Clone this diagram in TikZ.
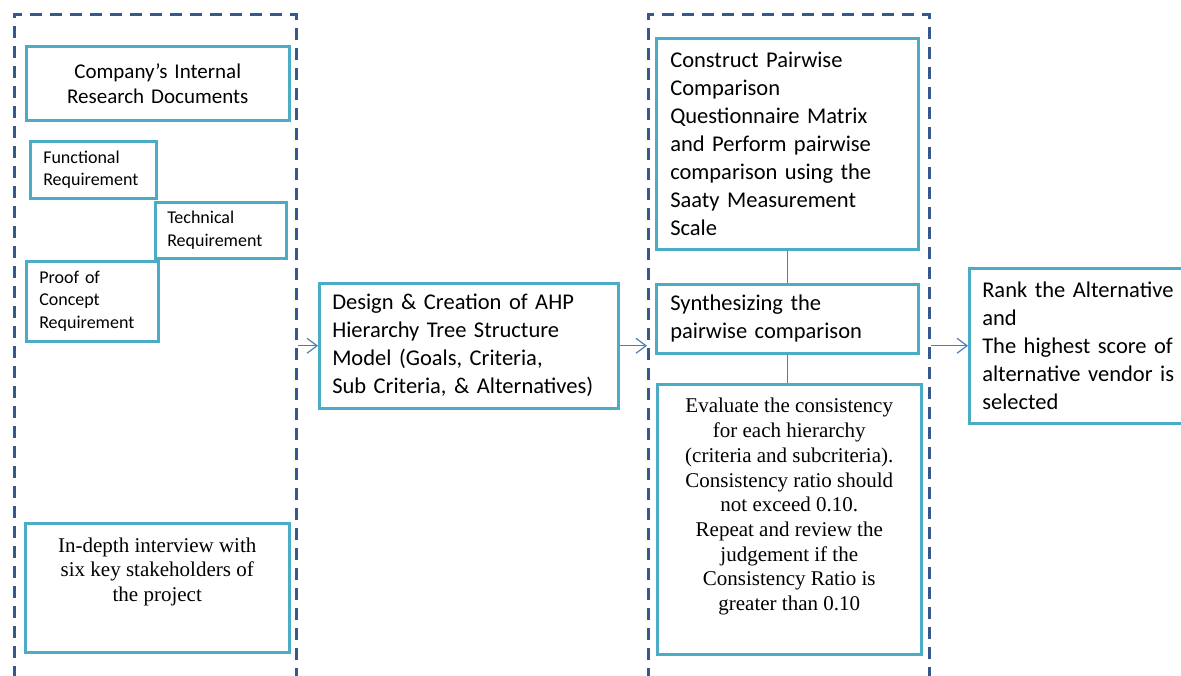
\documentclass[tikz,border=0pt]{standalone}
\usepackage{fontspec}
\setmainfont{Carlito}
\newfontfamily\tnr{Liberation Serif}
\usetikzlibrary{arrows.meta,calc}
\definecolor{cyanc}{HTML}{4BACC6}
\definecolor{dashc}{HTML}{35598F}
\definecolor{arrc}{HTML}{4A7EBB}
\tikzset{
  box/.style={draw=cyanc, line width=2.5pt, fill=white, rectangle, anchor=north west, inner xsep=13pt, inner ysep=0pt},
  grp/.style={draw=dashc, line width=2.5pt, dash pattern=on 12pt off 8pt, rectangle, anchor=north west, inner sep=0pt},
  big/.style={font=\fontsize{22.5}{28}\selectfont, align=left},
  mid/.style={font=\fontsize{21}{25}\selectfont, align=center},
  small/.style={font=\fontsize{18}{22.5}\selectfont, align=left},
  serif/.style={font=\tnr\fontsize{21}{24.7}\selectfont, align=center},
  conn/.style={draw=arrc, line width=1.2pt},
  arr/.style={conn, -{Straight Barb[length=10pt,width=15pt,line width=1.2pt]}}
}
\begin{document}
\begin{tikzpicture}[x=1pt,y=-1pt]
\useasboundingbox (0,0) rectangle (1181,675);
\clip (0,0) rectangle (1181,675);
\fill[white] (0,0) rectangle (1181,675);

% dashed groups
\node[grp, minimum width=282pt, minimum height=664pt] (grpL) at (13,13) {};
\node[grp, minimum width=281pt, minimum height=664pt] (grpR) at (647,13) {};

% left group
\node[box, mid, minimum width=263pt, minimum height=74pt, text width=237pt] (company) at (25,45) {Company’s Internal\\Research Documents};
\node[box, small, minimum width=126pt, minimum height=57pt, text width=100pt, inner xsep=12pt] (func) at (29,140) {Functional\\Requirement};
\node[box, small, minimum width=131pt, minimum height=56pt, text width=107pt, inner xsep=12pt] (tech) at (154,201) {Technical\\Requirement};
\node[box, small, minimum width=132pt, minimum height=80pt, text width=106pt] (proof) at (25,260) {Proof of\\Concept\\Requirement};
\node[box, minimum width=264pt, minimum height=129pt] (interview) at (24,522) {};
\node[serif, anchor=center] (interviewtxt) at ($(interview.center)+(0,-16)$) {In-depth interview with\\six key stakeholders of\\the project};

% middle
\node[box, big, minimum width=299pt, minimum height=125pt, text width=273pt] (design) at (318,282) {Design \& Creation of AHP\\Hierarchy Tree Structure\\Model (Goals, Criteria,\\Sub Criteria, \& Alternatives)};

% right group
\node[box, big, minimum width=262pt, minimum height=211pt, text width=234pt, inner xsep=14pt] (construct) at (655,37) {Construct Pairwise\\Comparison\\Questionnaire Matrix\\and Perform pairwise\\comparison using the\\Saaty Measurement\\Scale};
\node[box, big, minimum width=262pt, minimum height=69pt, text width=234pt, inner xsep=14pt] (synth) at (655,283) {Synthesizing the\\pairwise comparison};
\node[box, minimum width=264pt, minimum height=270pt] (eval) at (656,383) {};
\node[serif, anchor=center] (evaltxt) at ($(eval.center)+(0,-12.5)$) {Evaluate the consistency\\for each hierarchy\\(criteria and subcriteria).\\Consistency ratio should\\not exceed 0.10.\\Repeat and review the\\judgement if the\\Consistency Ratio is\\greater than 0.10};

% final
\node[box, big, minimum width=227pt, minimum height=155pt, text width=214pt] (rank) at (968,267) {Rank the Alternative\\and\\The highest score of\\alternative vendor is\\selected};

% connectors
\draw[arr] (grpL.east |- design.west) -- (design.west);
\draw[arr] (design.east) -- (grpR.west |- design.east);
\draw[arr] (grpR.east |- rank.west) -- (rank.west);
\draw[conn] (construct.south) -- (synth.north);
\draw[conn] (synth.south) -- (synth.south |- eval.north);
\end{tikzpicture}
\end{document}
